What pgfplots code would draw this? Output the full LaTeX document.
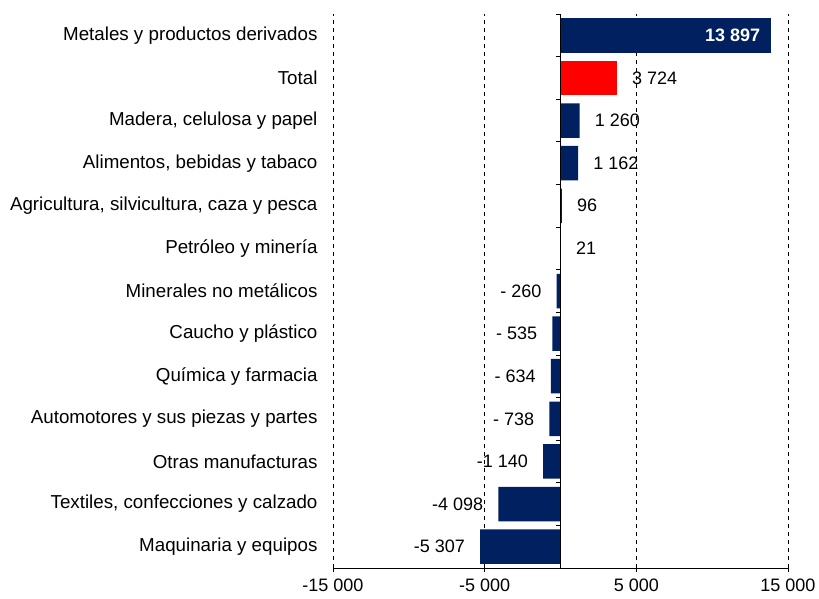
\documentclass[border=0pt]{standalone}
\usepackage{fontspec}
\setmainfont{Liberation Sans}
\usepackage{pgfplots}
\pgfplotsset{compat=1.18}
\definecolor{navy}{HTML}{002060}
\newcommand{\fs}{\fontsize{18}{21}\selectfont}
\newcommand{\fc}{\fontsize{18.75}{22}\selectfont}
\begin{document}
\begin{tikzpicture}
\begin{axis}[
  at={(0pt,0pt)}, anchor=south west,
  scale only axis, width=455pt, height=554pt,
  xbar, bar width=34.5pt, bar shift=0pt,
  xmin=-15000, xmax=15000, ymin=-0.5, ymax=12.5,
  axis x line*=bottom, axis y line*=left,
  y axis line style={draw=none}, ytick style={draw=none},
  x axis line style={black, line width=0.8pt},
  x tick style={black, line width=0.8pt},
  tick align=outside, major tick length=4pt,
  xtick={-15000,-5000,5000,15000},
  xticklabels={-15 000,-5 000,5 000,15 000},
  xmajorgrids,
  major grid style={black, line width=0.8pt, dash pattern=on 4pt off 4pt},
  ytick={0,...,12},
  yticklabels={Maquinaria y equipos,
    {Textiles, confecciones y calzado},
    Otras manufacturas,
    Automotores y sus piezas y partes,
    Química y farmacia,
    Caucho y plástico,
    Minerales no metálicos,
    Petróleo y minería,
    {Agricultura, silvicultura, caza y pesca},
    {Alimentos, bebidas y tabaco},
    {Madera, celulosa y papel},
    Total,
    Metales y productos derivados},
  yticklabel style={font=\fc, anchor=east, xshift=-8pt},
  xticklabel style={font=\fs, yshift=-3.5pt},
  point meta=explicit symbolic,
  nodes near coords,
  every node near coord/.append style={font=\fs, text=black, inner xsep=15pt},
]
\addplot[fill=navy, draw=none,
  every node near coord/.append style={font=\bfseries\fs, text=white, anchor=east, inner xsep=11pt}]
  coordinates {(13897,12) [13 897]};
\addplot[fill=red, draw=none,
  every node near coord/.append style={anchor=west}]
  coordinates {(3724,11) [3 724]};
\addplot[fill=navy, draw=none,
  every node near coord/.append style={anchor=west}]
  coordinates {
  (1260,10) [1 260]
  (1162,9) [1 162]
  (96,8) [96]
  (21,7) [21]
};
\addplot[fill=navy, draw=none,
  every node near coord/.append style={anchor=east}]
  coordinates {
  (-260,6) [- 260]
  (-535,5) [- 535]
  (-634,4) [- 634]
  (-738,3) [- 738]
  (-1140,2) [-1 140]
  (-4098,1) [-4 098]
  (-5307,0) [-5 307]
};
\draw[black, line width=0.8pt] (axis cs:0,-0.5) -- (axis cs:0,12.5);
\pgfplotsinvokeforeach{-0.5,0.5,...,12.5}{
  \draw[black, line width=0.8pt] (axis cs:0,#1) -- ++(-4pt,0pt);
}
\end{axis}
\pgfresetboundingbox
\path (-333pt,-30pt) rectangle (486pt,568pt);
\end{tikzpicture}
\end{document}
